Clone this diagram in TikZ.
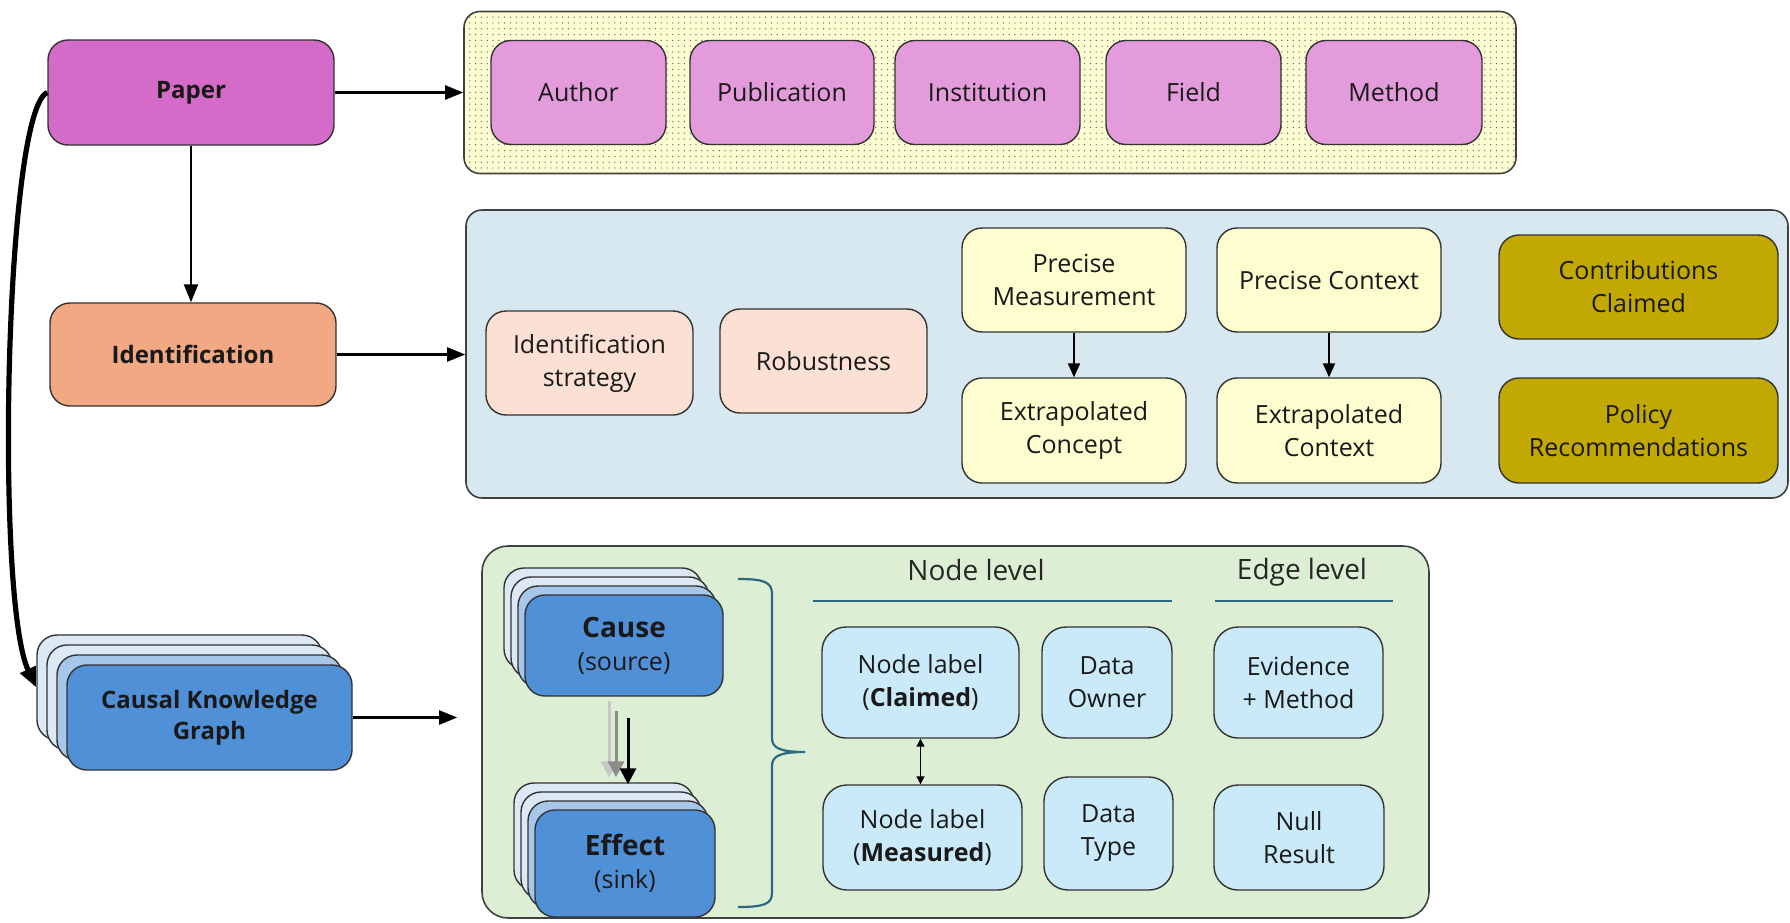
\documentclass[tikz,border=0pt]{standalone}
\usepackage{fontspec}
\setmainfont{Open Sans}
\usetikzlibrary{arrows.meta, patterns.meta, calc}

\definecolor{paperpink}{HTML}{D56BC8}
\definecolor{metapink}{HTML}{E39BDB}
\definecolor{dotyellow}{HTML}{FDFDD2}
\definecolor{identorange}{HTML}{F1A883}
\definecolor{identpanel}{HTML}{D7E8F1}
\definecolor{peach}{HTML}{FBE0D3}
\definecolor{paleyellow}{HTML}{FEFDCF}
\definecolor{olive}{HTML}{C2A802}
\definecolor{graphpanel}{HTML}{DCEFD4}
\definecolor{skyblue}{HTML}{CBEAF9}
\definecolor{layerblue}{HTML}{4F90D6}
\definecolor{layerlight}{HTML}{A7C7EA}
\definecolor{layerpale}{HTML}{DDE8F5}
\definecolor{bracecol}{HTML}{2C6A80}

\begin{document}
\begin{tikzpicture}[x=0.5pt, y=-0.5pt,
  box/.style={draw=black!80, line width=0.7pt, rounded corners=10pt, align=center,
    inner sep=1pt, text=black!90, font=\fontsize{12.5}{16.5}\selectfont},
  sz/.style 2 args={minimum width=#1*0.5pt, minimum height=#2*0.5pt},
  panel/.style={draw=black!75, line width=0.8pt, rounded corners=8pt},
  boldtext/.style={font=\fontsize{12}{15.5}\selectfont\bfseries},
  arr/.style={-{Triangle[length=9pt,width=7pt]}, line width=1.2pt},
  smallarr/.style={-{Triangle[length=7pt,width=6pt]}, line width=1pt},
  kgarr/.style={-{Triangle[length=8pt,width=8pt]}, line width=1.5pt}]
\useasboundingbox (0,0) rectangle (1790,922);
% Panels that hold the detail boxes
\node[panel, sz={1052}{162}, preaction={fill=dotyellow},
  pattern={Dots[distance=2.9pt, radius=0.35pt]}, pattern color=black!60] (meta) at (990,92.5) {};
\node[panel, sz={1322}{288}, fill=identpanel] (idpanel) at (1127,354) {};
\node[panel, sz={947}{372}, fill=graphpanel, rounded corners=13pt] (graph) at (955.5,732) {};
% Left column
\node[box, sz={286}{105}, fill=paperpink, boldtext] (paper) at (191,92.5) {Paper};
\node[box, sz={286}{103}, fill=identorange, boldtext] (ident) at (193,354.5) {Identification};
% Stack of graphs, back layers first
\foreach \k/\c in {3/layerpale, 2/layerpale, 1/layerlight}
  \node[box, sz={285}{105}, fill=\c] (ckg\k) at ({209.5-10*\k},{717.5-10*\k}) {};
\node[box, sz={285}{105}, fill=layerblue, boldtext] (ckg) at (209.5,717.5) {Causal Knowledge\\Graph};
% Paper metadata
\foreach \x/\w/\nm/\lbl in {578.5/175/author/Author, 782/184/pub/Publication,
    987.5/185/inst/Institution, 1193.5/175/field/Field, 1394/176/method/Method}
  \node[box, sz={\w}{104}, fill=metapink] (\nm) at (\x,92.5) {\lbl};
% Identification details
\node[box, sz={207}{104}, fill=peach] (strategy) at (589.5,363) {Identification\\strategy};
\node[box, sz={207}{104}, fill=peach] (robust) at (823.5,361) {Robustness};
\node[box, sz={224}{104}, fill=paleyellow] (precmeas) at (1074,280) {Precise\\Measurement};
\node[box, sz={224}{105}, fill=paleyellow] (extconcept) at (1074,430.5) {Extrapolated\\Concept};
\node[box, sz={224}{104}, fill=paleyellow] (precctx) at (1329,280) {Precise Context};
\node[box, sz={224}{105}, fill=paleyellow] (extctx) at (1329,430.5) {Extrapolated\\Context};
\node[box, sz={279}{104}, fill=olive] (contrib) at (1638.5,287) {Contributions\\Claimed};
\node[box, sz={279}{105}, fill=olive] (policy) at (1638.5,430.5) {Policy\\Recommendations};
% Cause and effect stacks
\foreach \k/\c in {3/layerpale, 2/layerpale, 1/layerlight}
  \node[box, sz={198}{101}, fill=\c] (cause\k) at ({624-7*\k},{645.5-9*\k}) {};
\node[box, sz={198}{101}, fill=layerblue] (cause) at (624,645.5)
  {{\fontsize{14}{17}\selectfont\bfseries Cause}\\(source)};
\foreach \k/\c in {3/layerpale, 2/layerpale, 1/layerlight}
  \node[box, sz={180}{107}, fill=\c] (effect\k) at ({625-7*\k},{863.5-9*\k}) {};
\node[box, sz={180}{107}, fill=layerblue] (effect) at (625,863.5)
  {{\fontsize{14}{17}\selectfont\bfseries Effect}\\(sink)};
% Node and edge level columns
\node[font=\fontsize{14}{17}\selectfont, text=black!85] (nodelevel) at (976,570) {Node level};
\node[font=\fontsize{14}{17}\selectfont, text=black!85] (edgelevel) at (1302,572) {Edge level};
\draw[bracecol, line width=1pt] (813,601) -- (1172,601);
\draw[bracecol, line width=1pt] (1215,601) -- (1393,601);
\node[box, sz={197}{111}, fill=skyblue, rounded corners=12pt] (claimed) at (920.5,682.5) {Node label\\(\textbf{Claimed})};
\node[box, sz={199}{105}, fill=skyblue, rounded corners=12pt] (measured) at (922.5,837.5) {Node label\\(\textbf{Measured})};
\node[box, sz={130}{111}, fill=skyblue, rounded corners=12pt] (owner) at (1107,682.5) {Data\\Owner};
\node[box, sz={129}{113}, fill=skyblue, rounded corners=12pt] (dtype) at (1108.5,833.5) {Data\\Type};
\node[box, sz={169}{111}, fill=skyblue, rounded corners=12pt] (evidence) at (1298.5,682.5) {Evidence\\+ Method};
\node[box, sz={170}{105}, fill=skyblue, rounded corners=12pt] (null) at (1299,837.5) {Null\\Result};
% Brace from the stacks to the columns
\draw[bracecol, line width=1.1pt]
  (738,579) .. controls (764,579) and (772,582) .. (772,594) -- (772,738)
  .. controls (772,748) and (780,752) .. (805,752)
  .. controls (780,752) and (772,756) .. (772,766) -- (772,893)
  .. controls (772,904) and (764,907) .. (738,907);
% Connectors
\draw[arr] (paper.east) -- (meta.west);
\draw[arr] (ident.east) -- (ident.east -| idpanel.west);
\draw[arr] (paper.south) -- (paper.south |- ident.north);
\draw[arr, shorten >=12pt] (ckg.east) -- (ckg.east -| graph.west);
\draw[-{Triangle[length=10pt,width=8pt]}, line width=2.6pt]
  (paper.west) .. controls (5,110) and (-5,600) .. (ckg3.west);
\draw[smallarr] (precmeas) -- (extconcept);
\draw[smallarr] (precctx) -- (extctx);
\draw[{Triangle[length=4pt,width=4pt]}-{Triangle[length=4pt,width=4pt]}, line width=0.6pt]
  (claimed.south) -- (claimed.south |- measured.north);
% Cause to effect, three edges
\draw[kgarr, draw=black!22] ($(cause.south)+(-15,4)$) -- ($(cause.south |- effect3.north)+(-15,-5)$);
\draw[kgarr, draw=black!45] ($(cause.south)+(-8,14)$) -- ($(cause.south |- effect3.north)+(-8,-5)$);
\draw[kgarr] ($(cause.south)+(4,21)$) -- ($(cause.south |- effect3.north)+(4,2)$);
\end{tikzpicture}
\end{document}
